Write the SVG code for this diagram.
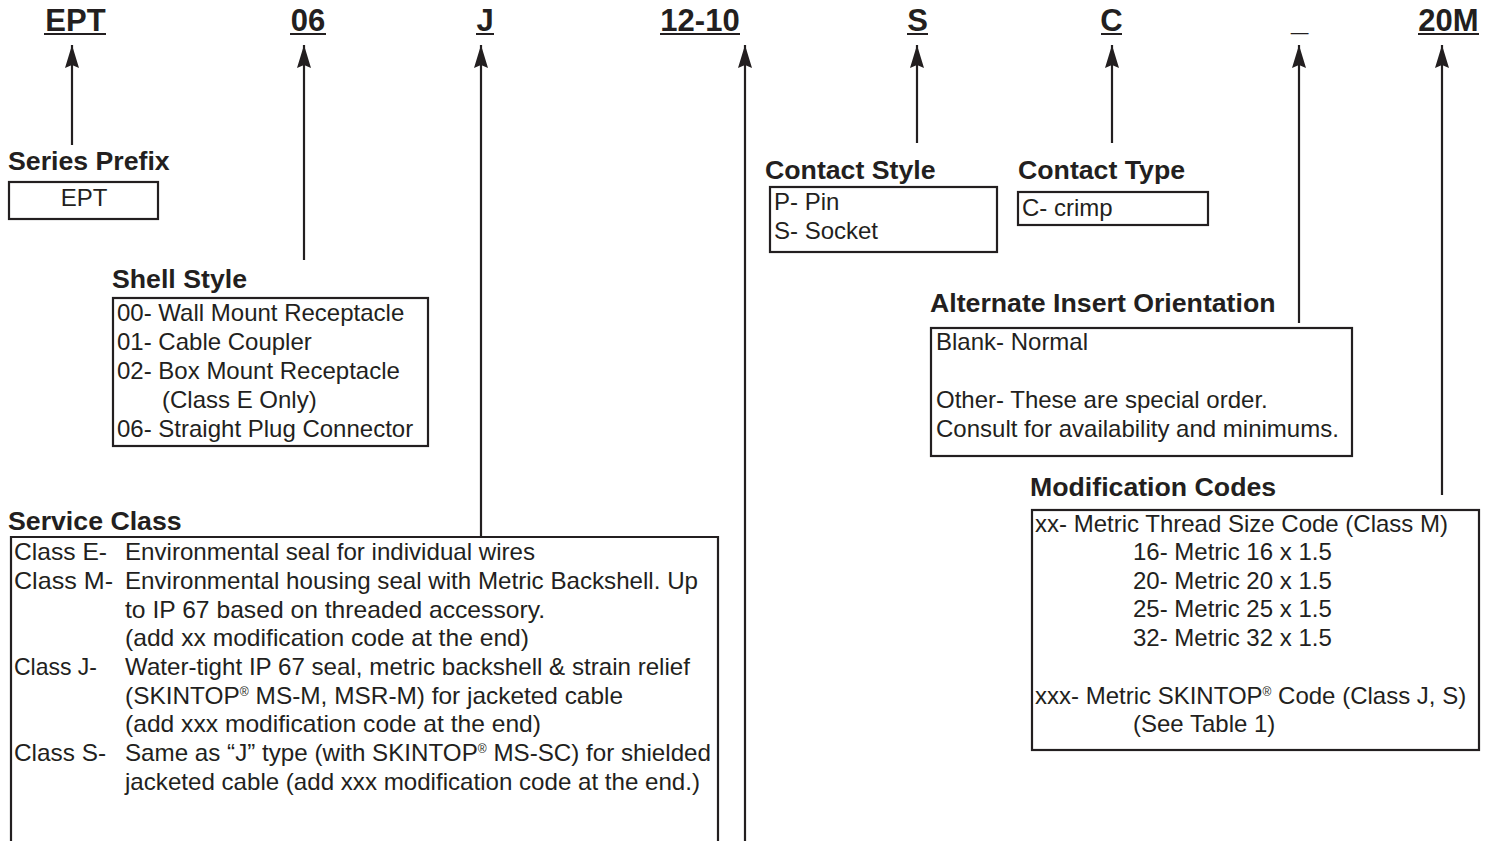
<svg xmlns="http://www.w3.org/2000/svg" width="1494" height="841" viewBox="0 0 1494 841">
<defs>
<style>
.hd{font-family:"Liberation Sans",Arial,sans-serif;font-weight:bold;font-size:31px;fill:#231f20;text-anchor:middle}
.ul{stroke:#231f20;stroke-width:2}
.tt{font-family:"Liberation Sans",Arial,sans-serif;font-weight:bold;font-size:26.7px;fill:#231f20}
.bx{fill:none;stroke:#231f20;stroke-width:2.2}
.tx{font-family:"Liberation Sans",Arial,sans-serif;font-size:24px;fill:#231f20}
.sc{font-family:"Liberation Sans",Arial,sans-serif;font-size:24px;fill:#231f20}
.cn{fill:none;stroke:#231f20;stroke-width:2.2}
</style>
<marker id="ah" viewBox="-24 -8 25 16" markerWidth="25" markerHeight="16" refX="0" refY="0" orient="auto" markerUnits="userSpaceOnUse">
<path d="M0,0 L-23,-7 L-20,0 L-23,7 Z" fill="#231f20"/>
</marker>
</defs>
<rect width="1494" height="841" fill="#ffffff"/>

<g id="header">
<text class="hd" x="75.5" y="31">EPT</text><line class="ul" x1="44" y1="34" x2="106" y2="34"/>
<text class="hd" x="308" y="31">06</text><line class="ul" x1="290" y1="34" x2="326" y2="34"/>
<text class="hd" x="485" y="31">J</text><line class="ul" x1="476" y1="34" x2="494" y2="34"/>
<text class="hd" x="700" y="31">12-10</text><line class="ul" x1="660" y1="34" x2="740" y2="34"/>
<text class="hd" x="917.5" y="31">S</text><line class="ul" x1="907" y1="34" x2="928" y2="34"/>
<text class="hd" x="1111.5" y="31">C</text><line class="ul" x1="1101" y1="34" x2="1122" y2="34"/>
<text class="hd" x="1299.5" y="30">_</text>
<text class="hd" x="1448.5" y="31">20M</text><line class="ul" x1="1418" y1="34" x2="1479" y2="34"/>
</g>

<g id="connectors">
<line class="cn" x1="72" y1="145" x2="72" y2="45" marker-end="url(#ah)"/>
<line class="cn" x1="304" y1="260" x2="304" y2="45" marker-end="url(#ah)"/>
<line class="cn" x1="481" y1="536" x2="481" y2="45" marker-end="url(#ah)"/>
<line class="cn" x1="745" y1="841" x2="745" y2="45" marker-end="url(#ah)"/>
<line class="cn" x1="917" y1="143" x2="917" y2="45" marker-end="url(#ah)"/>
<line class="cn" x1="1112" y1="143" x2="1112" y2="45" marker-end="url(#ah)"/>
<line class="cn" x1="1299" y1="323" x2="1299" y2="45" marker-end="url(#ah)"/>
<line class="cn" x1="1442" y1="495" x2="1442" y2="45" marker-end="url(#ah)"/>
</g>

<g id="series-prefix">
<text class="tt" x="8" y="170">Series Prefix</text>
<rect class="bx" x="9" y="182" width="149" height="37"/>
<text class="tx" x="84" y="206" text-anchor="middle">EPT</text>
</g>

<g id="shell-style">
<text class="tt" x="112" y="288">Shell Style</text>
<rect class="bx" x="113" y="298" width="315" height="148"/>
<text class="tx" x="117" y="321">00- Wall Mount Receptacle</text>
<text class="tx" x="117" y="350">01- Cable Coupler</text>
<text class="tx" x="117" y="379">02- Box Mount Receptacle</text>
<text class="tx" x="162" y="408">(Class E Only)</text>
<text class="tx" x="117" y="437">06- Straight Plug Connector</text>
</g>

<g id="service-class">
<text class="tt" x="8" y="530">Service Class</text>
<path class="bx" d="M11,841 V537 H718 V841"/>
<text class="sc" x="14" y="560" textLength="93" lengthAdjust="spacingAndGlyphs">Class E-</text>
<text class="sc" x="125" y="560" textLength="410" lengthAdjust="spacingAndGlyphs">Environmental seal for individual wires</text>
<text class="sc" x="14" y="589" textLength="99" lengthAdjust="spacingAndGlyphs">Class M-</text>
<text class="sc" x="125" y="589" textLength="573" lengthAdjust="spacingAndGlyphs">Environmental housing seal with Metric Backshell. Up</text>
<text class="sc" x="125" y="618" textLength="420" lengthAdjust="spacingAndGlyphs">to IP 67 based on threaded accessory.</text>
<text class="sc" x="125" y="646" textLength="404" lengthAdjust="spacingAndGlyphs">(add xx modification code at the end)</text>
<text class="sc" x="14" y="675" textLength="83" lengthAdjust="spacingAndGlyphs">Class J-</text>
<text class="sc" x="125" y="675" textLength="565" lengthAdjust="spacingAndGlyphs">Water-tight IP 67 seal, metric backshell &amp; strain relief</text>
<text class="sc" x="125" y="704" textLength="498" lengthAdjust="spacingAndGlyphs">(SKINTOP<tspan font-size="12" dy="-8">®</tspan><tspan dy="8"> MS-M, MSR-M) for jacketed cable</tspan></text>
<text class="sc" x="125" y="732" textLength="416" lengthAdjust="spacingAndGlyphs">(add xxx modification code at the end)</text>
<text class="sc" x="14" y="761" textLength="92" lengthAdjust="spacingAndGlyphs">Class S-</text>
<text class="sc" x="125" y="761" textLength="586" lengthAdjust="spacingAndGlyphs">Same as “J” type (with SKINTOP<tspan font-size="12" dy="-8">®</tspan><tspan dy="8"> MS-SC) for shielded</tspan></text>
<text class="sc" x="125" y="790" textLength="575" lengthAdjust="spacingAndGlyphs">jacketed cable (add xxx modification code at the end.)</text>
</g>

<g id="contact-style">
<text class="tt" x="765" y="179">Contact Style</text>
<rect class="bx" x="770" y="187" width="227" height="65"/>
<text class="tx" x="774" y="210">P- Pin</text>
<text class="tx" x="774" y="239">S- Socket</text>
</g>

<g id="contact-type">
<text class="tt" x="1018" y="179">Contact Type</text>
<rect class="bx" x="1018" y="192" width="190" height="33"/>
<text class="tx" x="1022" y="216">C- crimp</text>
</g>

<g id="alternate-insert-orientation">
<text class="tt" x="930" y="312">Alternate Insert Orientation</text>
<rect class="bx" x="931" y="328" width="421" height="128"/>
<text class="tx" x="936" y="350">Blank- Normal</text>
<text class="tx" x="936" y="408">Other- These are special order.</text>
<text class="tx" x="936" y="437">Consult for availability and minimums.</text>
</g>

<g id="modification-codes">
<text class="tt" x="1030" y="496">Modification Codes</text>
<rect class="bx" x="1032" y="510" width="447" height="240"/>
<text class="tx" x="1035" y="532">xx- Metric Thread Size Code (Class M)</text>
<text class="tx" x="1133" y="560">16- Metric 16 x 1.5</text>
<text class="tx" x="1133" y="589">20- Metric 20 x 1.5</text>
<text class="tx" x="1133" y="617">25- Metric 25 x 1.5</text>
<text class="tx" x="1133" y="646">32- Metric 32 x 1.5</text>
<text class="tx" x="1035" y="704">xxx- Metric SKINTOP<tspan font-size="12" dy="-8">®</tspan><tspan dy="8"> Code (Class J, S)</tspan></text>
<text class="tx" x="1133" y="732">(See Table 1)</text>
</g>
</svg>
